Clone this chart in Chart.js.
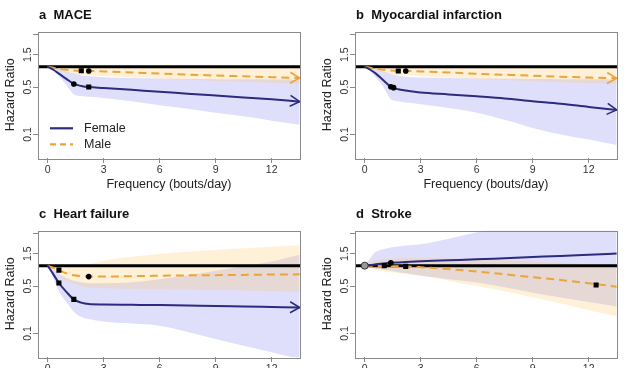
<!DOCTYPE html>
<html><head><meta charset="utf-8">
<script src="https://cdn.jsdelivr.net/npm/chart.js@4.4.1/dist/chart.umd.min.js"></script>
<style>
html,body{margin:0;padding:0;background:#fff;overflow:hidden;width:638px;height:368px}
#wrap{position:relative;width:638px;height:368px;overflow:hidden;background:#fff}
canvas{position:absolute}
</style></head>
<body><div id="wrap">
<canvas id="cA" width="317" height="200" style="left:0px;top:0px"></canvas>
<canvas id="cB" width="317" height="200" style="left:317px;top:0px"></canvas>
<canvas id="cC" width="317" height="200" style="left:0px;top:199px"></canvas>
<canvas id="cD" width="317" height="200" style="left:317px;top:199px"></canvas>
</div>
<script>
// ---------------- data ----------------
const freq = [0, 0.3, 0.6, 1.0, 1.4, 1.8, 2.2, 3, 4.5, 6, 7.5, 9, 10.5, 12, 13.5];
const xTicks = [0, 3, 6, 9, 12];
const yTicks = [0.1, 0.5, 1.5, 3];
const yTickLabels = ['0.1', '0.5', '1.5', ''];
const xRange = [-0.52, 13.52];
const yRange = [0.045, 3.3];
const refHR = 1;
const panelTitles = ['a  MACE', 'b  Myocardial infarction', 'c  Heart failure', 'd  Stroke'];
const legendLabels = ['Female', 'Male'];
const xTitle = 'Frequency (bouts/day)';
const yTitle = 'Hazard Ratio';

// a  MACE
const femaleA   = [1.0, 0.90, 0.79, 0.66, 0.556, 0.52, 0.50, 0.485, 0.455, 0.428, 0.40, 0.375, 0.352, 0.33, 0.305];
const femaleLoA = [1.0, 0.88, 0.72, 0.53, 0.39, 0.37, 0.36, 0.345, 0.31, 0.27, 0.24, 0.21, 0.185, 0.16, 0.139];
const femaleHiA = [1.0, 0.97, 0.92, 0.85, 0.79, 0.75, 0.72, 0.70, 0.68, 0.67, 0.66, 0.655, 0.65, 0.645, 0.64];
const maleA     = [1.0, 0.965, 0.93, 0.90, 0.88, 0.87, 0.865, 0.85, 0.82, 0.79, 0.765, 0.74, 0.72, 0.70, 0.68];
const maleLoA   = [1.0, 0.93, 0.87, 0.81, 0.77, 0.76, 0.75, 0.73, 0.70, 0.67, 0.64, 0.62, 0.60, 0.58, 0.56];
const maleHiA   = [1.0, 1.0, 0.99, 0.99, 0.98, 0.98, 0.98, 0.98, 0.975, 0.97, 0.97, 0.965, 0.96, 0.96, 0.96];
const squaresA  = [[1.8, 0.87], [2.2, 0.50]];
const circlesA  = [[2.2, 0.865], [1.4, 0.556]];

// b  Myocardial infarction
const femaleB   = [1.0, 0.90, 0.79, 0.63, 0.505, 0.465, 0.445, 0.415, 0.39, 0.365, 0.34, 0.31, 0.285, 0.255, 0.23];
const femaleLoB = [1.0, 0.85, 0.70, 0.50, 0.33, 0.31, 0.295, 0.28, 0.245, 0.21, 0.165, 0.125, 0.10, 0.084, 0.07];
const femaleHiB = [1.0, 0.97, 0.92, 0.85, 0.78, 0.74, 0.71, 0.69, 0.68, 0.67, 0.665, 0.66, 0.655, 0.65, 0.645];
const maleB     = [1.0, 0.965, 0.93, 0.90, 0.88, 0.87, 0.865, 0.85, 0.82, 0.785, 0.76, 0.735, 0.71, 0.69, 0.675];
const maleLoB   = [1.0, 0.93, 0.87, 0.81, 0.77, 0.755, 0.745, 0.72, 0.69, 0.66, 0.635, 0.61, 0.59, 0.575, 0.56];
const maleHiB   = [1.0, 1.0, 0.99, 0.99, 0.985, 0.98, 0.98, 0.98, 0.975, 0.97, 0.97, 0.965, 0.96, 0.96, 0.96];
const squaresB  = [[1.8, 0.865]];
const circlesB  = [[2.2, 0.865], [1.4, 0.505], [1.55, 0.49]];

// c  Heart failure
const femaleC   = [1.0, 0.75, 0.555, 0.41, 0.318, 0.285, 0.272, 0.268, 0.265, 0.262, 0.258, 0.255, 0.25, 0.246, 0.242];
const femaleLoC = [1.0, 0.65, 0.42, 0.29, 0.21, 0.175, 0.163, 0.15, 0.14, 0.13, 0.105, 0.083, 0.066, 0.053, 0.042];
const femaleHiC = [1.0, 0.88, 0.76, 0.66, 0.60, 0.57, 0.55, 0.55, 0.57, 0.63, 0.72, 0.84, 0.98, 1.15, 1.45];
const maleC     = [1.0, 0.93, 0.86, 0.77, 0.72, 0.70, 0.69, 0.69, 0.70, 0.71, 0.72, 0.725, 0.73, 0.74, 0.745];
const maleLoC   = [1.0, 0.85, 0.72, 0.60, 0.54, 0.50, 0.475, 0.465, 0.455, 0.45, 0.445, 0.44, 0.43, 0.42, 0.41];
const maleHiC   = [1.0, 0.99, 0.98, 0.97, 0.98, 1.0, 1.04, 1.18, 1.35, 1.48, 1.60, 1.70, 1.80, 1.90, 2.0];
const squaresC  = [[0.6, 0.86], [0.6, 0.555], [1.4, 0.318]];
const circlesC  = [[2.2, 0.69]];

// d  Stroke
const femaleD   = [1.0, 1.02, 1.045, 1.075, 1.10, 1.115, 1.13, 1.16, 1.20, 1.24, 1.29, 1.34, 1.39, 1.45, 1.51];
const femaleLoD = [1.0, 0.95, 0.90, 0.87, 0.84, 0.80, 0.77, 0.71, 0.63, 0.565, 0.48, 0.40, 0.34, 0.29, 0.25];
const femaleHiD = [1.0, 1.30, 1.60, 1.75, 1.85, 1.92, 1.98, 2.07, 2.5, 3.1, 3.7, 4.2, 4.6, 5.0, 5.3];
const maleD     = [1.0, 0.995, 0.99, 0.985, 0.98, 0.978, 0.975, 0.95, 0.89, 0.82, 0.745, 0.675, 0.615, 0.55, 0.49];
const maleLoD   = [1.0, 0.92, 0.86, 0.82, 0.80, 0.78, 0.76, 0.72, 0.60, 0.50, 0.42, 0.34, 0.28, 0.22, 0.18];
const maleHiD   = [1.0, 1.12, 1.20, 1.25, 1.28, 1.30, 1.30, 1.30, 1.28, 1.25, 1.20, 1.15, 1.10, 1.05, 1.0];
const squaresD  = [[1.05, 1.0], [2.2, 0.975], [12.4, 0.52]];
const circlesD  = [[1.4, 1.1]];
const openD     = [[0, 1.0]];

// ---------------- styling ----------------
const FONT = "'Liberation Sans', Arial, Helvetica, sans-serif";
const FEMALE = '#2d2b80';
const MALE = '#e9a53c';
const FEMALE_BAND = 'rgba(110,110,235,0.22)';
const MALE_BAND = 'rgba(250,195,90,0.24)';
const AXIS_GREY = '#8a8a8a';
const DASH = [8, 5];

const pts = (ys) => freq.map((x, i) => ({x: x, y: ys[i]}));
const pairs = (arr) => arr.map(p => ({x: p[0], y: p[1]}));

const panels = [
  {id: 'cA', title: panelTitles[0], f: femaleA, fLo: femaleLoA, fHi: femaleHiA, m: maleA, mLo: maleLoA, mHi: maleHiA, sq: squaresA, ci: circlesA, op: [], arrowF: true, arrowM: true, legend: true},
  {id: 'cB', title: panelTitles[1], f: femaleB, fLo: femaleLoB, fHi: femaleHiB, m: maleB, mLo: maleLoB, mHi: maleHiB, sq: squaresB, ci: circlesB, op: [], arrowF: true, arrowM: true, legend: false},
  {id: 'cC', title: panelTitles[2], f: femaleC, fLo: femaleLoC, fHi: femaleHiC, m: maleC, mLo: maleLoC, mHi: maleHiC, sq: squaresC, ci: circlesC, op: [], arrowF: true, arrowM: false, legend: false},
  {id: 'cD', title: panelTitles[3], f: femaleD, fLo: femaleLoD, fHi: femaleHiD, m: maleD, mLo: maleLoD, mHi: maleHiD, sq: squaresD, ci: circlesD, op: openD, arrowF: false, arrowM: false, legend: false}
];

function drawArrow(ctx, meta, color) {
  const n = meta.data.length;
  if (n < 2) return;
  const p1 = meta.data[n - 2], p2 = meta.data[n - 1];
  const th = Math.atan2(p2.y - p1.y, p2.x - p1.x);
  const L = 11, a = Math.PI / 6;
  ctx.save();
  ctx.strokeStyle = color; ctx.lineWidth = 1.6; ctx.setLineDash([]);
  ctx.beginPath();
  ctx.moveTo(p2.x - L * Math.cos(th - a), p2.y - L * Math.sin(th - a));
  ctx.lineTo(p2.x, p2.y);
  ctx.lineTo(p2.x - L * Math.cos(th + a), p2.y - L * Math.sin(th + a));
  ctx.stroke();
  ctx.restore();
}

const decor = {
  id: 'decor',
  afterDatasetsDraw(chart, args, opts) {
    const ctx = chart.ctx, ca = chart.chartArea;
    const p = opts.panel;
    if (p.arrowM) drawArrow(ctx, chart.getDatasetMeta(5), MALE);
    if (p.arrowF) drawArrow(ctx, chart.getDatasetMeta(6), FEMALE);
    ctx.save();
    ctx.strokeStyle = AXIS_GREY; ctx.lineWidth = 1;
    ctx.strokeRect(Math.round(ca.left) + 0.5, Math.round(ca.top) + 0.5, Math.round(ca.right - ca.left), Math.round(ca.bottom - ca.top));
    ctx.restore();
  },
  afterDraw(chart, args, opts) {
    const ctx = chart.ctx, ca = chart.chartArea;
    const p = opts.panel;
    ctx.save();
    ctx.fillStyle = '#111';
    ctx.font = 'bold 13px ' + FONT;
    ctx.textBaseline = 'middle';
    ctx.textAlign = 'left';
    ctx.fillText(p.title, ca.left + 1, 15);
    if (p.legend) {
      const y1 = 128.3, y2 = 144.3;
      ctx.lineWidth = 2.2;
      ctx.strokeStyle = FEMALE;
      ctx.beginPath(); ctx.moveTo(50, y1); ctx.lineTo(73, y1); ctx.stroke();
      ctx.strokeStyle = MALE; ctx.setLineDash([6, 4]);
      ctx.beginPath(); ctx.moveTo(50, y2); ctx.lineTo(73, y2); ctx.stroke();
      ctx.setLineDash([]);
      ctx.fillStyle = '#222';
      ctx.font = '12.5px ' + FONT;
      ctx.fillText(legendLabels[0], 84, y1);
      ctx.fillText(legendLabels[1], 84, y2);
    }
    ctx.restore();
  }
};

panels.forEach(p => {
  const band = (data, fill, color, order) => ({data: pts(data), fill: fill, backgroundColor: color, borderWidth: 0, pointRadius: 0, cubicInterpolationMode: 'monotone', order: order});
  const datasets = [
    band(p.fHi, '+1', FEMALE_BAND, 10),
    band(p.fLo, false, FEMALE_BAND, 10),
    band(p.mHi, '+1', MALE_BAND, 9),
    band(p.mLo, false, MALE_BAND, 9),
    {data: [{x: xRange[0], y: refHR}, {x: xRange[1], y: refHR}], borderColor: '#000', borderWidth: 3, pointRadius: 0, fill: false, order: 5},
    {data: pts(p.m), borderColor: MALE, borderWidth: 2, borderDash: DASH, pointRadius: 0, fill: false, cubicInterpolationMode: 'monotone', order: 3},
    {data: pts(p.f), borderColor: FEMALE, borderWidth: 2, pointRadius: 0, fill: false, cubicInterpolationMode: 'monotone', order: 2},
    {data: pairs(p.sq), showLine: false, pointStyle: 'rect', pointRadius: 3.6, backgroundColor: '#000', borderColor: '#000', borderWidth: 0, order: 1},
    {data: pairs(p.ci), showLine: false, pointStyle: 'circle', pointRadius: 2.8, backgroundColor: '#000', borderColor: '#000', borderWidth: 0, order: 1},
    {data: pairs(p.op), showLine: false, pointStyle: 'circle', pointRadius: 3.5, backgroundColor: '#9a9a9a', borderColor: '#333', borderWidth: 1, order: 1}
  ];
  new Chart(document.getElementById(p.id), {
    type: 'line',
    data: {datasets: datasets},
    options: {
      responsive: false,
      animation: false,
      devicePixelRatio: 1,
      layout: {padding: {top: 31.5, right: 17, left: 0, bottom: 0}},
      plugins: {legend: {display: false}, tooltip: {enabled: false}, title: {display: false}, decor: {panel: p}},
      scales: {
        x: {
          type: 'linear', min: xRange[0], max: xRange[1], bounds: 'data',
          afterBuildTicks: s => { s.ticks = xTicks.map(v => ({value: v})); },
          afterFit: s => { s.height = 42; },
          grid: {display: true, drawOnChartArea: false, drawTicks: true, tickLength: 5, color: AXIS_GREY, lineWidth: 1},
          border: {display: false},
          ticks: {padding: 1, color: '#333', font: {family: FONT, size: 10.5}, maxRotation: 0, minRotation: 0, callback: v => String(v)},
          title: {display: true, text: xTitle, color: '#222', font: {family: FONT, size: 12.5}, padding: {top: 0, bottom: 8}}
        },
        y: {
          type: 'logarithmic', min: yRange[0], max: yRange[1], bounds: 'data',
          afterBuildTicks: s => { s.ticks = yTicks.map(v => ({value: v})); },
          afterFit: s => { s.width = 38; },
          grid: {display: true, drawOnChartArea: false, drawTicks: true, tickLength: 5, color: AXIS_GREY, lineWidth: 1},
          border: {display: false},
          ticks: {padding: -2, color: '#333', font: {family: FONT, size: 10.5}, minRotation: 90, maxRotation: 90, crossAlign: 'center',
                  callback: (v) => { const i = yTicks.indexOf(v); return i >= 0 ? yTickLabels[i] : ''; }},
          title: {display: true, text: yTitle, color: '#222', font: {family: FONT, size: 12.5}, padding: {top: 3.5, bottom: 0}}
        }
      }
    },
    plugins: [decor]
  });
});
</script>
</body></html>
